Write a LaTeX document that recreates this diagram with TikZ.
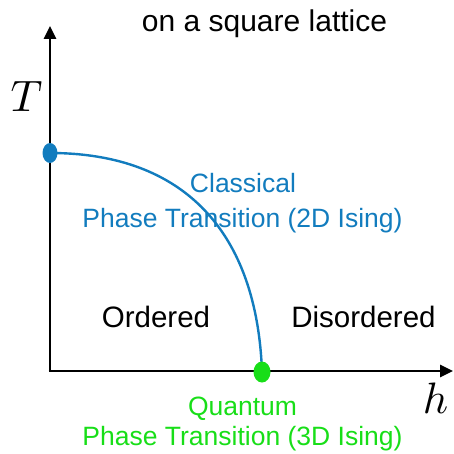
\documentclass[tikz,border=0pt]{standalone}
\usepackage{fontspec}
\setmainfont{Liberation Sans}
\usetikzlibrary{arrows.meta,shapes.geometric}
\definecolor{cblue}{RGB}{18,124,190}
\definecolor{cgreen}{RGB}{24,222,24}
\begin{document}
\begin{tikzpicture}[x=1pt,y=-1pt,
  axis/.style={line width=2.6pt,-{Triangle[length=13pt,width=12pt]}},
  dot/.style={ellipse,inner sep=0pt,minimum width=#1},
  lbl/.style={anchor=base,inner sep=0pt,font=\fontsize{29.5}{30}\selectfont},
  blbl/.style={anchor=base,inner sep=0pt,text=cblue,font=\fontsize{26.5}{27}\selectfont},
  glbl/.style={anchor=base,inner sep=0pt,text=cgreen,font=\fontsize{26.5}{27}\selectfont},
  mlbl/.style={anchor=base,inner sep=0pt,scale=4.4}]
\useasboundingbox (0,0) rectangle (453,454);
\coordinate (O) at (50,371);
\coordinate (Ttop) at (50,26);
\coordinate (hend) at (453,371);
\coordinate (Pc) at (50,153);
\coordinate (Pq) at (262,372);
\draw[axis] (O.center) -- (Ttop);
\draw[axis] ([xshift=-1.3pt]O.center) -- (hend);
\draw[cblue,line width=2.4pt] (Pc) .. controls (185,153) and (257,233) .. (Pq);
\node[dot=15pt,minimum height=20pt,fill=cblue] (bd) at (Pc) {};
\node[dot=17pt,minimum height=21pt,fill=cgreen] (gd) at (Pq) {};
\node[lbl,font=\fontsize{30}{30}\selectfont] (title) at (264.5,32) {on a square lattice};
\node[mlbl] (T) at (26.5,112) {$T$};
\node[mlbl] (h) at (435.5,413) {$h$};
\node[blbl] (cl1) at (243,193) {Classical};
\node[blbl] (cl2) at (242.5,227) {Phase Transition (2D Ising)};
\node[glbl] (q1) at (242.5,415) {Quantum};
\node[glbl] (q2) at (242.5,445) {Phase Transition (3D Ising)};
\node[lbl] (ord) at (156,327) {Ordered};
\node[lbl] (dis) at (363.5,327) {Disordered};
\end{tikzpicture}
\end{document}
